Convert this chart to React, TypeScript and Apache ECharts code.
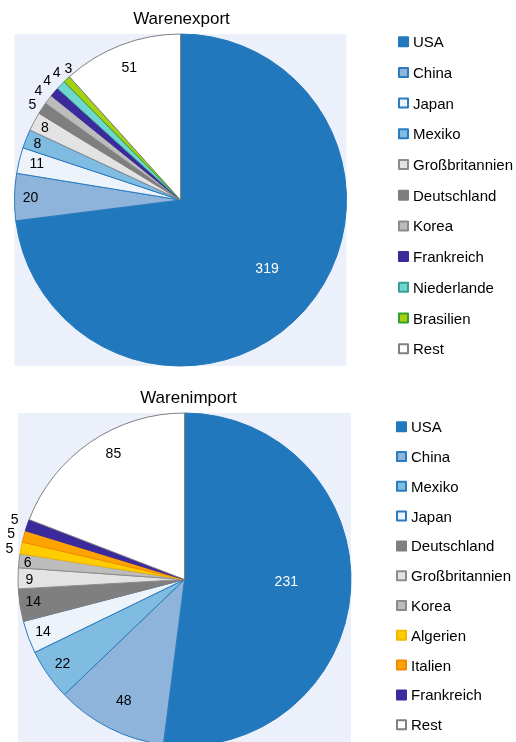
import React, { useEffect, useRef } from "react";
import * as echarts from "echarts";

const exportNames = ["USA", "China", "Japan", "Mexiko", "Großbritannien", "Deutschland", "Korea", "Frankreich", "Niederlande", "Brasilien", "Rest"];
const exportValues = [319, 20, 11, 8, 8, 5, 4, 4, 4, 3, 51];
const importNames = ["USA", "China", "Mexiko", "Japan", "Deutschland", "Großbritannien", "Korea", "Algerien", "Italien", "Frankreich", "Rest"];
const importValues = [231, 48, 22, 14, 14, 9, 6, 5, 5, 5, 85];
const exportTitle = "Warenexport";
const importTitle = "Warenimport";

// styling (not data)
const fillColors: Record<string, string> = {
  USA: "#2278bc",
  China: "#8fb4db",
  Japan: "#edf3fb",
  Mexiko: "#80bbe1",
  "Großbritannien": "#e3e3e3",
  Deutschland: "#7f7f7f",
  Korea: "#bcbcbc",
  Frankreich: "#3b2a9b",
  Niederlande: "#6fd7cf",
  Brasilien: "#a8d00e",
  Rest: "#ffffff",
  Algerien: "#ffcc00",
  Italien: "#ffa300",
};
const borderColors: Record<string, string> = {
  USA: "#2278bc",
  China: "#2a7bbf",
  Japan: "#2a7bbf",
  Mexiko: "#2a7bbf",
  "Großbritannien": "#8c8c8c",
  Deutschland: "#7f7f7f",
  Korea: "#8c8c8c",
  Frankreich: "#3b2a9b",
  Niederlande: "#3a9e98",
  Brasilien: "#33a02c",
  Rest: "#808080",
  Algerien: "#f2b800",
  Italien: "#f08a00",
};
// label placement for each slice (layout): distance from centre and small pixel nudge
const exportLabelR = [107, 148, 147, 152, 152, 176, 180, 179, 178, 173, 140];
const exportLabelOffset = [[4, -5], [1, 0], [2, -1], [1, 0], [1, 0], [1, 3], [3.4, 0.5], [5, -1.5], [6.7, -2.7], [8.4, -3.8], [0, 0]];
const importLabelR = [100, 132, 147, 149, 151, 153, 156, 178, 179, 180, 143];
const importLabelOffset = [[-1, -5], [0, 0], [1, -2], [1, -1], [1, -2], [1, 1], [1, 0], [2.5, 2.5], [2.5, 0.5], [3, -1], [11.5, -6.6]];

const FONT = "Liberation Sans, Arial, sans-serif";

function buildPie(names: string[], values: number[], labelR: number[], labelOffset: number[][], center: number[], r: number) {
  const data = names.map((n, i) => ({
    name: n,
    value: values[i],
    itemStyle: { color: fillColors[n], borderColor: borderColors[n], borderWidth: 1 },
  }));
  const series: any[] = [
    {
      type: "pie",
      center,
      radius: [0, r],
      startAngle: 90,
      clockwise: true,
      avoidLabelOverlap: false,
      label: { show: false },
      labelLine: { show: false },
      emphasis: { disabled: true },
      silent: true,
      z: 2,
      data,
    },
  ];
  names.forEach((n, idx) => {
    const d = labelR[idx];
    series.push({
      type: "pie",
      center,
      radius: [d - 1, d + 1],
      startAngle: 90,
      clockwise: true,
      avoidLabelOverlap: false,
      labelLayout: { hideOverlap: false },
      silent: true,
      z: 3,
      emphasis: { disabled: true },
      labelLine: { show: false },
      itemStyle: { color: "rgba(0,0,0,0)", borderWidth: 0 },
      label: { show: false },
      data: names.map((nm, i) => ({
        name: nm,
        value: values[i],
        itemStyle: { color: "rgba(0,0,0,0)", borderWidth: 0 },
        label: {
          show: i === idx,
          position: "inside",
          offset: labelOffset[i],
          formatter: "{c}",
          fontSize: 14,
          fontFamily: FONT,
          color: nm === "USA" ? "#ffffff" : "#000000",
        },
      })),
    });
  });
  return series;
}

export default function App() {
  const ref = useRef<HTMLDivElement>(null);
  useEffect(() => {
    if (!ref.current) return;
    const chart = echarts.init(ref.current, null, { renderer: "svg" });
    const topC = [180.5, 200];
    const topR = 166;
    const botC = [184.5, 579.5];
    const botR = 166.5;
    const option: any = {
      animation: false,
      graphic: [
        {
          type: "rect",
          z: 0,
          silent: true,
          shape: { x: topC[0] - topR, y: topC[1] - topR, width: topR * 2, height: topR * 2 },
          style: { fill: "#ecf0fa" },
        },
        {
          type: "rect",
          z: 0,
          silent: true,
          shape: { x: botC[0] - botR, y: botC[1] - botR, width: botR * 2, height: botR * 2 },
          style: { fill: "#ecf0fa" },
        },
        {
          type: "text",
          x: 181.5,
          y: 18,
          style: { text: exportTitle, fontSize: 17, fontFamily: FONT, fill: "#000", align: "center", verticalAlign: "middle" },
        },
        {
          type: "text",
          x: 188.5,
          y: 397,
          style: { text: importTitle, fontSize: 17, fontFamily: FONT, fill: "#000", align: "center", verticalAlign: "middle" },
        },
      ],
      legend: [
        {
          orient: "vertical",
          left: 398,
          top: 34.2,
          height: 340,
          width: 118,
          padding: 0,
          itemWidth: 9,
          itemHeight: 9,
          itemGap: 15.7,
          icon: "rect",
          selectedMode: false,
          data: exportNames,
          textStyle: { fontSize: 15, fontFamily: FONT, color: "#000", lineHeight: 15 },
        },
        {
          orient: "vertical",
          left: 396,
          top: 419.2,
          height: 330,
          width: 120,
          padding: 0,
          itemWidth: 9,
          itemHeight: 9,
          itemGap: 14.8,
          icon: "rect",
          selectedMode: false,
          data: importNames,
          textStyle: { fontSize: 15, fontFamily: FONT, color: "#000", lineHeight: 15 },
        },
      ],
      series: [
        ...buildPie(exportNames, exportValues, exportLabelR, exportLabelOffset, topC, topR),
        ...buildPie(importNames, importValues, importLabelR, importLabelOffset, botC, botR),
      ],
    };
    chart.setOption(option);
    return () => chart.dispose();
  }, []);
  return <div ref={ref} style={{ position: "fixed", left: 0, top: 0, width: 516, height: 742 }} />;
}
